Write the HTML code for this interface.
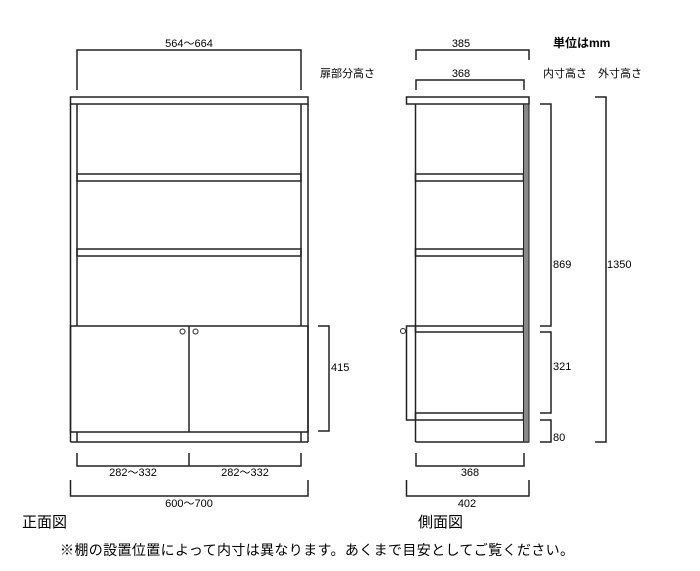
<!DOCTYPE html>
<html><head><meta charset="utf-8"><style>
html,body{margin:0;padding:0;background:#fff;}
svg{display:block;}
text{font-family:"Liberation Sans","Noto Sans CJK JP",sans-serif;fill:#000;}
</style></head><body>
<svg width="700" height="571" viewBox="0 0 700 571" xmlns="http://www.w3.org/2000/svg">
<g fill="none" stroke="#222" stroke-width="1.5">
<!-- FRONT VIEW -->
<rect x="70.5" y="97" width="237.5" height="7"/>
<line x1="70.5" y1="104" x2="70.5" y2="442"/>
<line x1="77" y1="104" x2="77" y2="326"/>
<line x1="301" y1="104" x2="301" y2="326"/>
<line x1="308" y1="104" x2="308" y2="442"/>
<rect x="77" y="174" width="224" height="7"/>
<rect x="77" y="249" width="224" height="7"/>
<rect x="70.5" y="326" width="237.5" height="106"/>
<line x1="189" y1="326" x2="189" y2="432"/>
<line x1="70.5" y1="442" x2="308" y2="442"/>
<line x1="77" y1="432" x2="77" y2="442"/>
<line x1="301" y1="432" x2="301" y2="442"/>
<circle cx="182.5" cy="331.5" r="2.5" stroke-width="1"/>
<circle cx="195.5" cy="331.5" r="2.5" stroke-width="1"/>
<!-- front dims -->
<polyline points="77,90 77,50 301,50 301,90"/>
<polyline points="318,326 329,326 329,431 318,431"/>
<polyline points="77,453 77,466 301,466 301,453"/>
<line x1="189" y1="453" x2="189" y2="466"/>
<polyline points="70.5,480 70.5,496 308,496 308,480"/>
<!-- SIDE VIEW -->
<rect x="406.5" y="97" width="122.5" height="7"/>
<line x1="415.5" y1="104" x2="415.5" y2="442"/>
<rect x="415.5" y="174" width="108" height="7"/>
<rect x="415.5" y="249" width="108" height="7"/>
<rect x="415.5" y="326" width="108" height="6"/>
<rect x="415.5" y="413" width="108" height="7"/>
<polyline points="415.5,326 406.5,326 406.5,420 415.5,420"/>
<line x1="415.5" y1="442" x2="529" y2="442"/>
<circle cx="403" cy="331" r="2.5" stroke-width="1"/>
<!-- side dims -->
<polyline points="416,60 416,50 529,50 529,60"/>
<polyline points="416,90 416,80 524,80 524,90"/>
<polyline points="540,104 551,104 551,326 540,326"/>
<polyline points="540,332 551,332 551,413 540,413"/>
<polyline points="540,420 551,420 551,442 540,442"/>
<polyline points="595,97 606,97 606,442 595,442"/>
<polyline points="416,453 416,466 524,466 524,453"/>
<polyline points="406.5,480 406.5,496 529,496 529,480"/>
</g>
<rect x="523.5" y="104" width="5.5" height="338" fill="#888" stroke="#222" stroke-width="1"/>
<g font-size="11" text-anchor="middle">
<text x="189" y="47">564～664</text>
<text x="133" y="476">282～332</text>
<text x="245" y="476">282～332</text>
<text x="189" y="507">600～700</text>
<text x="461" y="47">385</text>
<text x="461" y="77">368</text>
<text x="470" y="476">368</text>
<text x="467" y="507">402</text>
</g>
<g font-size="11">
<text x="320" y="77">扉部分高さ</text>
<text x="331" y="371">415</text>
<text x="553" y="268">869</text>
<text x="553" y="370">321</text>
<text x="553" y="441">80</text>
<text x="607" y="268">1350</text>
<text x="543" y="77">内寸高さ</text>
<text x="598" y="77">外寸高さ</text>
<text x="553" y="47" font-weight="bold" font-size="12">単位はmm</text>
</g>
<text x="22" y="527" font-size="15">正面図</text>
<text x="418" y="527" font-size="15">側面図</text>
<text x="60" y="555" font-size="14" textLength="514">※棚の設置位置によって内寸は異なります。あくまで目安としてご覧ください。</text>
</svg>
</body></html>
